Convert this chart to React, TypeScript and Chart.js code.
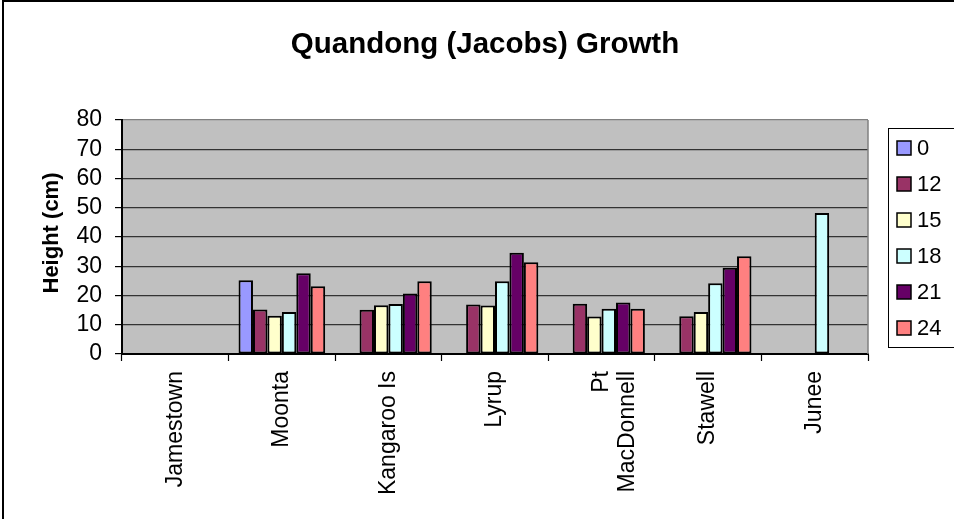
import React, { useEffect, useRef } from "react";
import { Chart, registerables } from "chart.js";

Chart.register(...registerables);

const chartTitle = "Quandong (Jacobs) Growth";
const yAxisTitle = "Height (cm)";

const sites: (string | string[])[] = [
  "Jamestown",
  "Moonta",
  "Kangaroo Is",
  "Lyrup",
  ["Pt", "MacDonnell"],
  "Stawell",
  "Junee",
];

const seriesLabels = ["0", "12", "15", "18", "21", "24"];
const seriesColors = ["#9999FF", "#993366", "#FFFFCC", "#CCFFFF", "#660066", "#FF8080"];

const height0 = [null, 25.2, null, null, null, null, null];
const height12 = [null, 15.2, 15.1, 16.9, 17.2, 12.9, null];
const height15 = [null, 13.1, 16.7, 16.6, 12.8, 14.4, null];
const height18 = [null, 14.4, 17.1, 24.9, 15.5, 24.2, 48.2];
const height21 = [null, 27.6, 20.7, 34.6, 17.6, 29.5, null];
const height24 = [null, 23.2, 24.9, 31.4, 15.5, 33.4, null];

const seriesValues = [height0, height12, height15, height18, height21, height24];

const yTicks = [0, 10, 20, 30, 40, 50, 60, 70, 80];

const FONT = "'Liberation Sans', Arial, sans-serif";

const decorPlugin = {
  id: "excelDecor",
  beforeDraw(chart: any) {
    const { ctx, chartArea } = chart;
    ctx.save();
    ctx.fillStyle = "#ffffff";
    ctx.fillRect(0, 0, chart.width, chart.height);
    // outer frame
    ctx.strokeStyle = "#000000";
    ctx.lineWidth = 2;
    ctx.strokeRect(3, 1, chart.width + 20, chart.height + 20);
    // plot background
    ctx.fillStyle = "#C0C0C0";
    ctx.fillRect(chartArea.left, chartArea.top, chartArea.right - chartArea.left, chartArea.bottom - chartArea.top);
    ctx.restore();
  },
  afterDraw(chart: any) {
    const { ctx, chartArea } = chart;
    ctx.save();
    // right border of the plot area
    ctx.strokeStyle = "#808080";
    ctx.lineWidth = 1.5;
    ctx.beginPath();
    ctx.moveTo(chartArea.right, chartArea.top);
    ctx.lineTo(chartArea.right, chartArea.bottom);
    ctx.stroke();

    // chart title
    ctx.fillStyle = "#000000";
    ctx.font = `bold 29.5px ${FONT}`;
    ctx.textAlign = "center";
    ctx.textBaseline = "alphabetic";
    ctx.fillText(chartTitle, 485, 53);

    // y axis title
    ctx.save();
    ctx.translate(58, 233);
    ctx.rotate(-Math.PI / 2);
    ctx.font = `bold 22px ${FONT}`;
    ctx.fillText(yAxisTitle, 0, 0);
    ctx.restore();

    // legend
    const lx = 888;
    const ly = 128;
    ctx.fillStyle = "#ffffff";
    ctx.fillRect(lx, ly, 100, 219);
    ctx.strokeStyle = "#000000";
    ctx.lineWidth = 1;
    ctx.strokeRect(lx + 0.5, ly + 0.5, 100, 219);
    ctx.font = `22px ${FONT}`;
    ctx.textAlign = "left";
    ctx.textBaseline = "middle";
    chart.data.datasets.forEach((ds: any, i: number) => {
      const cy = 148 + i * 36;
      ctx.fillStyle = ds.backgroundColor;
      ctx.fillRect(897, cy - 7, 14, 14);
      ctx.strokeStyle = "#000000";
      ctx.lineWidth = 1.5;
      ctx.strokeRect(897, cy - 7, 14, 14);
      ctx.fillStyle = "#000000";
      ctx.fillText(ds.label, 917, cy + 1);
    });
    ctx.restore();
  },
};

export default function App() {
  const canvasRef = useRef<HTMLCanvasElement | null>(null);

  useEffect(() => {
    if (!canvasRef.current) return;
    const chart = new Chart(canvasRef.current, {
      type: "bar",
      data: {
        labels: sites,
        datasets: seriesLabels.map((label, i) => ({
          label,
          data: seriesValues[i],
          backgroundColor: seriesColors[i],
          borderColor: "#000000",
          borderWidth: 2,
          borderSkipped: false,
          categoryPercentage: 0.813,
          barPercentage: 1.0,
        })),
      },
      options: {
        responsive: false,
        animation: false,
        devicePixelRatio: 1,
        layout: { padding: { top: 120, left: 0, right: 86, bottom: 0 } },
        plugins: {
          legend: { display: false },
          title: { display: false },
          tooltip: { enabled: false },
        },
        scales: {
          x: {
            offset: true,
            grid: {
              offset: true,
              drawOnChartArea: false,
              drawTicks: true,
              tickLength: 7,
              tickColor: "#000000",
              tickWidth: 1.2,
            },
            border: { color: "#000000", width: 2 },
            ticks: {
              minRotation: 90,
              maxRotation: 90,
              autoSkip: false,
              padding: 10,
              color: "#000000",
              font: { family: FONT, size: 23, lineHeight: 1.15 },
            },
            afterFit(scale: any) {
              scale.height = 165;
            },
          },
          y: {
            min: 0,
            max: 80,
            afterBuildTicks(scale: any) {
              scale.ticks = yTicks.map((v) => ({ value: v }));
            },
            grid: {
              color: (ctx: any) => (ctx.tick && ctx.tick.value === 80 ? "#808080" : "#333333"),
              lineWidth: 1.2,
              drawTicks: true,
              tickLength: 7,
              tickColor: "#000000",
              tickWidth: 1.2,
            },
            border: { color: "#000000", width: 2 },
            ticks: {
              autoSkip: false,
              padding: 13,
              color: "#000000",
              font: { family: FONT, size: 23 },
            },
            afterFit(scale: any) {
              scale.width = 122;
            },
          },
        },
      },
      plugins: [decorPlugin],
    });
    return () => chart.destroy();
  }, []);

  return (
    <div style={{ position: "fixed", left: 0, top: 0, width: 954, height: 519 }}>
      <canvas ref={canvasRef} width={954} height={519} style={{ display: "block" }} />
    </div>
  );
}
